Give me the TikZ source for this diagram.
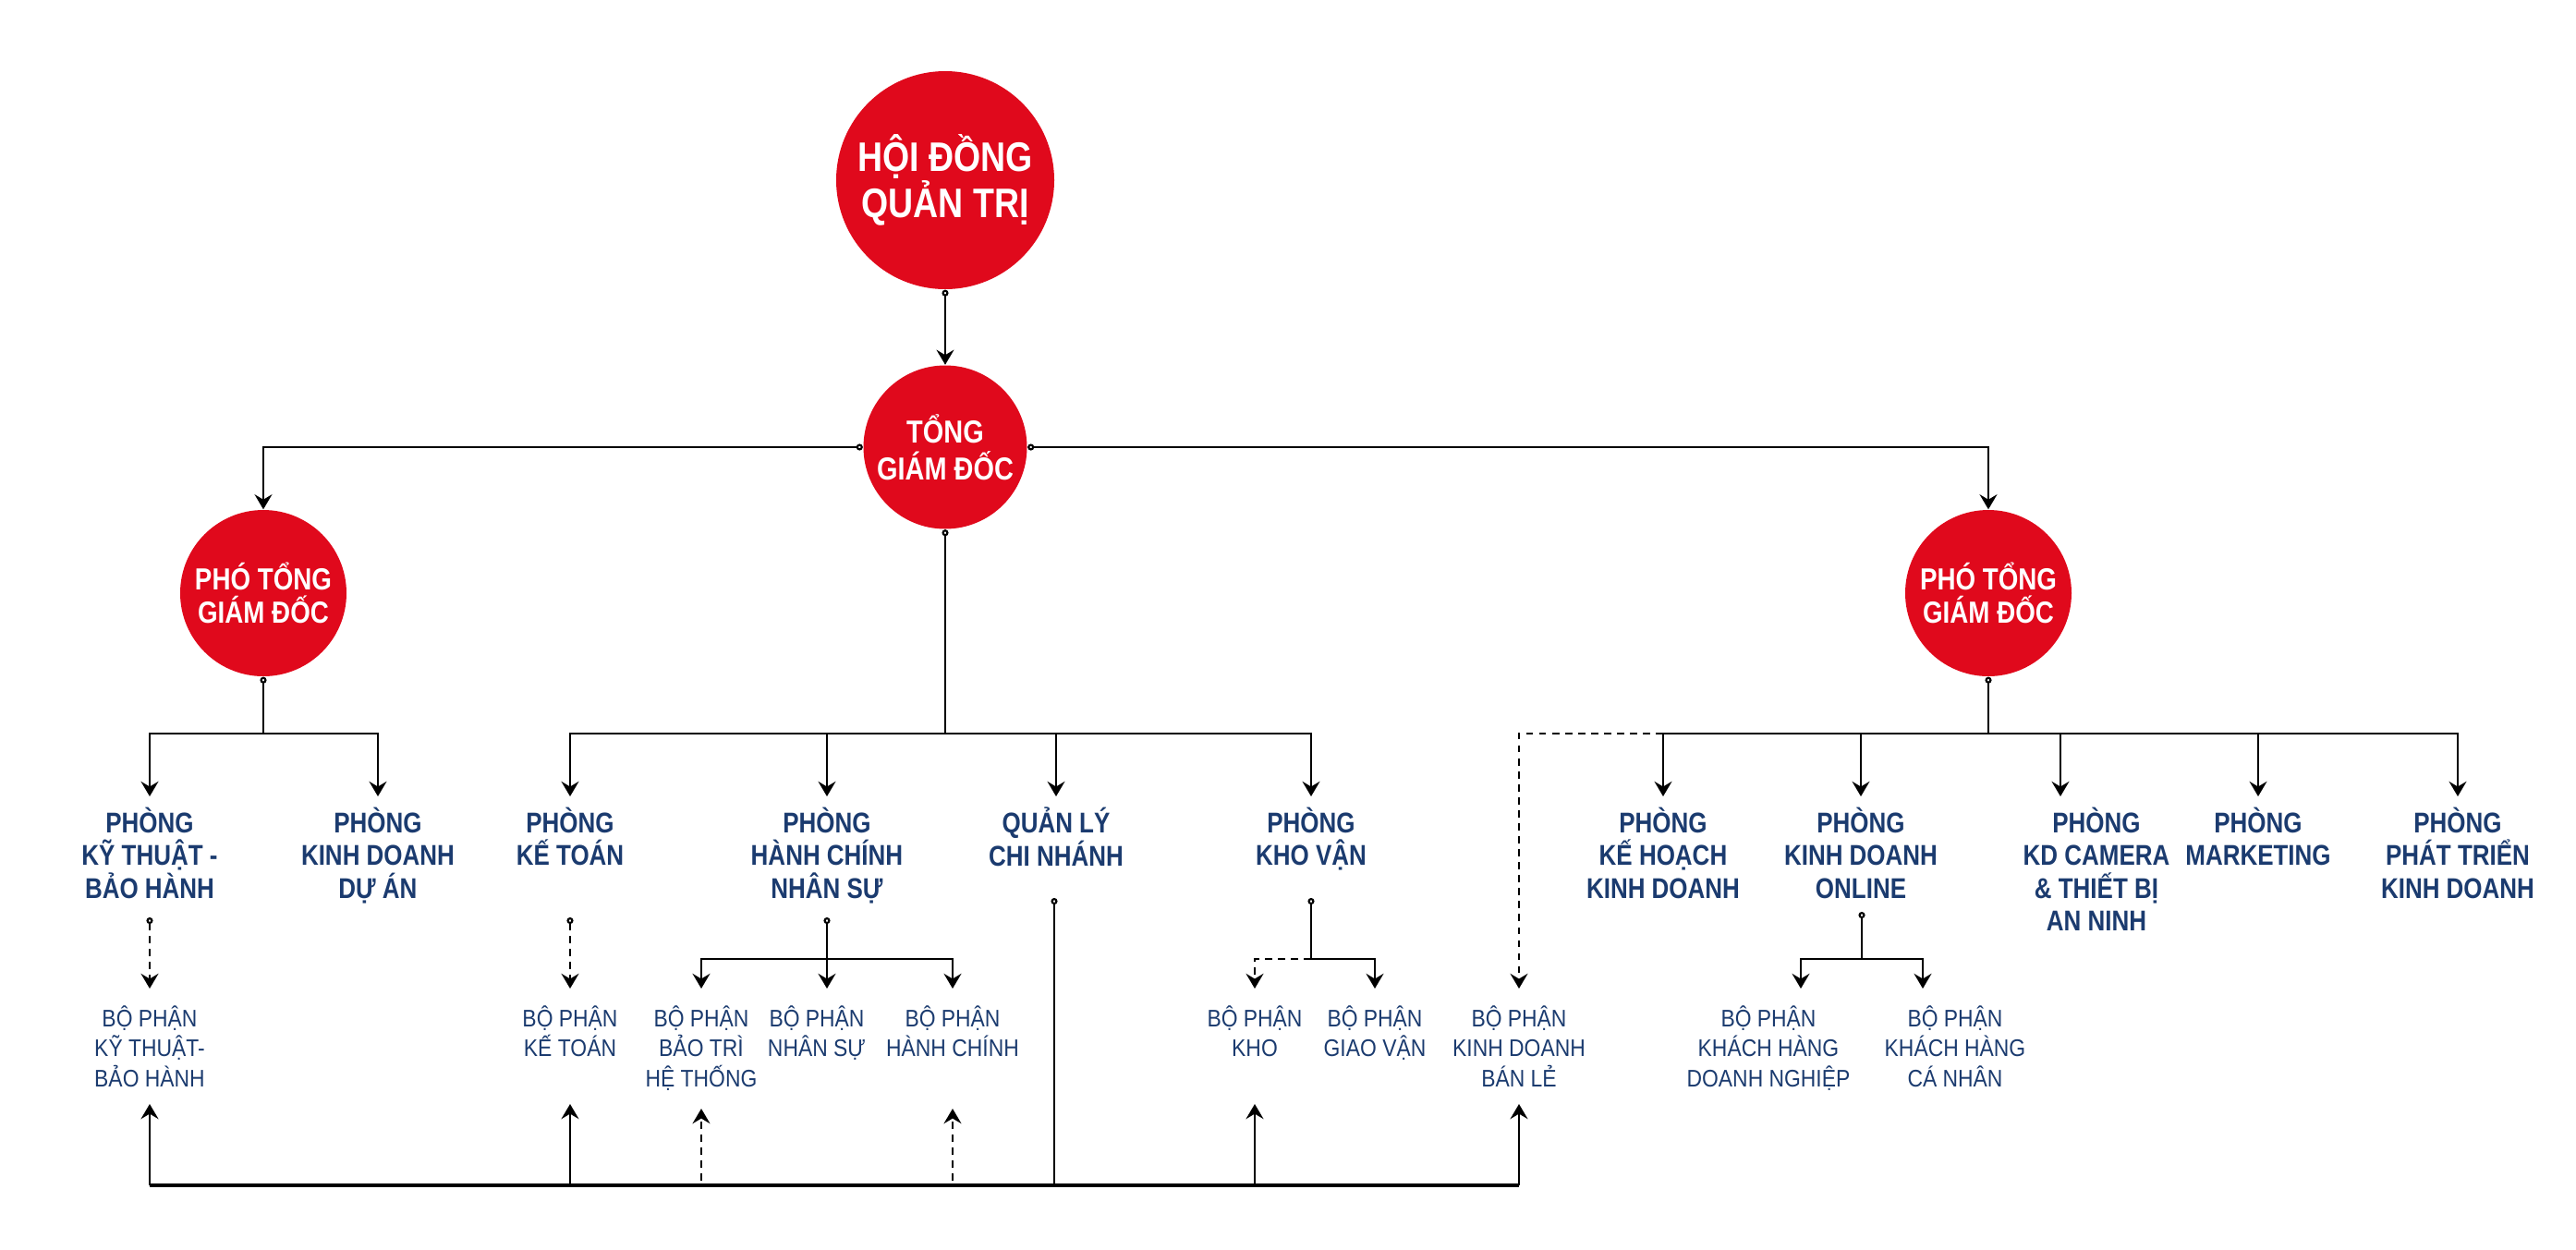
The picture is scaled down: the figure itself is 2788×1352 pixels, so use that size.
\documentclass[tikz,border=0pt]{standalone}
\usepackage{fontspec}
\setmainfont{Liberation Sans}
\newfontfamily\headfont{Liberation Sans}[FakeStretch=0.84]
\newfontfamily\unitfont{Liberation Sans}[FakeStretch=0.88]
\usepackage{tikz}
\usetikzlibrary{arrows.meta}
\usepackage{xcolor}
\definecolor{hdred}{RGB}{224,9,28}
\definecolor{navy}{RGB}{27,59,111}

\tikzset{
    boss/.style={circle, fill=hdred, text=white, inner sep=0pt, align=center, font=\headfont\bfseries},
    dept/.style={anchor=north, align=center, text=navy, inner xsep=0pt, inner ysep=3.2pt,
        font=\headfont\bfseries\fontsize{8.8}{10.05}\selectfont},
    unit/.style={anchor=north, align=center, text=navy, inner xsep=0pt, inner ysep=5pt,
        font=\unitfont\fontsize{7.4}{9.25}\selectfont},
    wire/.style={line width=0.6pt, black},
    arr/.style={wire, -{Stealth[length=4.6pt, width=5.4pt, inset=1.6pt]}},
    dotarr/.style={wire, {Circle[open, length=2pt, width=2pt, fill=white]}-{Stealth[length=4.6pt, width=5.4pt, inset=1.6pt]}},
    dotwire/.style={wire, {Circle[open, length=2pt, width=2pt, fill=white]}-},
    dashline/.style={dash pattern=on 2.2pt off 1.8pt}
}

\begin{document}
\begin{tikzpicture}[x=0.1mm, y=-0.1mm]
        \useasboundingbox (0,0) rectangle (2788,1352);
        % Circles
        \node [boss, minimum size=23.6mm, font=\headfont\bfseries\fontsize{12.7}{14.2}\selectfont] (hdqt) at (1023,195) {HỘI ĐỒNG\\QUẢN TRỊ};
        \node [boss, minimum size=17.7mm, font=\headfont\bfseries\fontsize{9.8}{11.4}\selectfont] (tgd) at (1023,484) {TỔNG\\GIÁM ĐỐC};
        \node [boss, minimum size=18mm, font=\headfont\bfseries\fontsize{9.4}{10.2}\selectfont] (ptgdL) at (285,642) {PHÓ TỔNG\\GIÁM ĐỐC};
        \node [boss, minimum size=18mm, font=\headfont\bfseries\fontsize{9.4}{10.2}\selectfont] (ptgdR) at (2152,642) {PHÓ TỔNG\\GIÁM ĐỐC};
        % Departments
        \node [dept] (ktbh) at (162,862) {PHÒNG\\KỸ THUẬT -\\BẢO HÀNH};
        \node [dept] (kdda) at (409,862) {PHÒNG\\KINH DOANH\\DỰ ÁN};
        \node [dept] (ketoan) at (617,862) {PHÒNG\\KẾ TOÁN};
        \node [dept] (hcns) at (895,862) {PHÒNG\\HÀNH CHÍNH\\NHÂN SỰ};
        \node [dept] (qlcn) at (1143,862) {QUẢN LÝ\\CHI NHÁNH};
        \node [dept] (khovan) at (1419,862) {PHÒNG\\KHO VẬN};
        \node [dept] (khkd) at (1800,862) {PHÒNG\\KẾ HOẠCH\\KINH DOANH};
        \node [dept] (kdol) at (2014,862) {PHÒNG\\KINH DOANH\\ONLINE};
        \node [dept] (camera) at (2269,862) {PHÒNG\\KD CAMERA\\\& THIẾT BỊ\\AN NINH};
        \node [dept] (mkt) at (2444,862) {PHÒNG\\MARKETING};
        \node [dept] (ptkd) at (2660,862) {PHÒNG\\PHÁT TRIỂN\\KINH DOANH};
        % Units
        \node [unit] (bpktbh) at (162,1070) {BỘ PHẬN\\KỸ THUẬT-\\BẢO HÀNH};
        \node [unit] (bpkt) at (617,1070) {BỘ PHẬN\\KẾ TOÁN};
        \node [unit] (bpbt) at (759,1070) {BỘ PHẬN\\BẢO TRÌ\\HỆ THỐNG};
        \node [unit] (bpns) at (884,1070) {BỘ PHẬN\\NHÂN SỰ};
        \node [unit] (bphc) at (1031,1070) {BỘ PHẬN\\HÀNH CHÍNH};
        \node [unit] (bpkho) at (1358,1070) {BỘ PHẬN\\KHO};
        \node [unit] (bpgv) at (1488,1070) {BỘ PHẬN\\GIAO VẬN};
        \node [unit] (bpbl) at (1644,1070) {BỘ PHẬN\\KINH DOANH\\BÁN LẺ};
        \node [unit] (bpdn) at (1914,1070) {BỘ PHẬN\\KHÁCH HÀNG\\DOANH NGHIỆP};
        \node [unit] (bpcn) at (2116,1070) {BỘ PHẬN\\KHÁCH HÀNG\\CÁ NHÂN};
        % Rows and line starts
        \coordinate (rowA) at (0,794);
        \coordinate (rowB) at (0,1038);
        \coordinate (bus) at (0,1283);
        \coordinate (upend) at (0,1195);
        \coordinate (ktbhS) at (162,993);
        \coordinate (ketoanS) at (617,993);
        \coordinate (hcnsS) at (895,993);
        \coordinate (qlcnS) at (1141,972);
        \coordinate (khovanS) at (1419,972);
        \coordinate (kdolS) at (2015,987);
        % Top lines
        \draw [dotarr] (hdqt.south) -- (tgd.north);
        \draw [dotarr] (tgd.west) -| (ptgdL.north);
        \draw [dotarr] (tgd.east) -| (ptgdR.north);
        % Department lines
        \draw [dotwire] (ptgdL.south) -- (ptgdL |- rowA);
        \foreach \d in {ktbh, kdda}
            \draw [arr] (ptgdL |- rowA) -| (\d.north);
        \draw [dotwire] (tgd.south) -- (tgd |- rowA);
        \foreach \d in {ketoan, hcns, qlcn, khovan}
            \draw [arr] (tgd |- rowA) -| (\d.north);
        \draw [dotwire] (ptgdR.south) -- (ptgdR |- rowA);
        \foreach \d in {khkd, kdol, mkt, ptkd}
            \draw [arr] (ptgdR |- rowA) -| (\d.north);
        \draw [arr] (ptgdR |- rowA) -| ([xshift=-3.9mm]camera.north);
        \draw [arr, dashline] (khkd |- rowA) -| (bpbl.north);
        % Unit lines
        \draw [dotarr, dashline] (ktbhS) -- (bpktbh.north);
        \draw [dotarr, dashline] (ketoanS) -- (bpkt.north);
        \draw [dotwire] (hcnsS) -- (hcnsS |- rowB);
        \draw [arr] (hcnsS |- rowB) -| (bpbt.north);
        \draw [arr] (hcnsS |- rowB) -| ([xshift=1.1mm]bpns.north);
        \draw [arr] (hcnsS |- rowB) -| (bphc.north);
        \draw [dotwire] (khovanS) -- (khovanS |- rowB);
        \draw [arr, dashline] (khovanS |- rowB) -| (bpkho.north);
        \draw [arr] (khovanS |- rowB) -| (bpgv.north);
        \draw [dotwire] (kdolS) -- (kdolS |- rowB);
        \draw [arr] (kdolS |- rowB) -| ([xshift=3.5mm]bpdn.north);
        \draw [arr] (kdolS |- rowB) -| ([xshift=-3.5mm]bpcn.north);
        % Bottom bus
        \draw [dotwire] (qlcnS) -- (qlcnS |- bus);
        \draw [wire, line width=0.9pt] (bpktbh |- bus) -- (bpbl |- bus);
        \foreach \u in {bpktbh, bpkt, bpkho, bpbl}
            \draw [arr] (\u |- bus) -- (\u |- upend);
        \foreach \u in {bpbt, bphc}
            \draw [arr, dashline] (\u |- 0,1278) -- (\u |- 0,1200);
    \end{tikzpicture}
\end{document}
